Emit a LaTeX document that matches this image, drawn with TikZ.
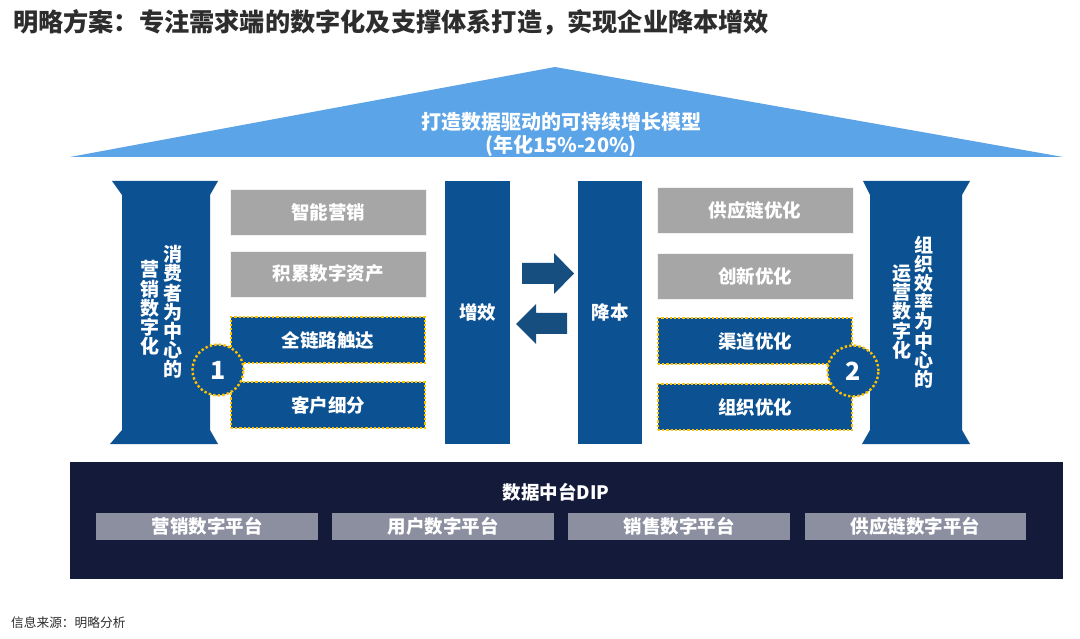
\documentclass[tikz,border=0pt]{standalone}
\usepackage{fontspec}
\setmainfont{Noto Sans CJK SC}
\definecolor{roofc}{RGB}{91,164,231}
\definecolor{pillc}{RGB}{12,81,146}
\definecolor{arrc}{RGB}{23,78,128}
\definecolor{grayc}{RGB}{166,166,166}
\definecolor{goldc}{RGB}{255,192,0}
\definecolor{basec}{RGB}{19,26,58}
\definecolor{platc}{RGB}{140,143,160}
\definecolor{titlec}{RGB}{45,45,45}
\tikzset{
  graybox/.style={fill=grayc, draw=white!85!grayc, line width=0.8pt, text=white, font=\fontsize{18.5}{18.5}\selectfont\bfseries},
  bluebox/.style={fill=pillc, draw=goldc, line width=2.2pt, dash pattern=on 2.2pt off 2pt, text=white, font=\fontsize{18.5}{18.5}\selectfont\bfseries},
  numcirc/.style={circle, fill=pillc, draw=goldc, line width=2.4pt, dash pattern=on 2.4pt off 2.2pt, minimum size=51pt, inner sep=0pt, text=white, font=\fontsize{25}{25}\selectfont\bfseries},
  vtext/.style={text=white, align=center, inner sep=0pt, font=\fontsize{19}{19.2}\selectfont\bfseries},
  bartext/.style={text=white, font=\fontsize{18.5}{18.5}\selectfont\bfseries},
  platbox/.style={fill=platc, text=white, font=\fontsize{18.5}{18.5}\selectfont\bfseries},
}
\begin{document}
\begin{tikzpicture}[x=1pt,y=-1pt]
\useasboundingbox[fill=white] (0,0) rectangle (1080,639);
% title
\node[anchor=west, inner sep=0pt, text=titlec, font=\fontsize{25.2}{25.2}\selectfont\bfseries] (title) at (13,22) {明略方案：专注需求端的数字化及支撑体系打造，实现企业降本增效};
% roof
\fill[roofc] (70,157) -- (555,67) -- (1063,157) -- cycle;
\node[text=white, align=center, font=\fontsize{20}{23}\selectfont\bfseries] (roof) at (561,134) {打造数据驱动的可持续增长模型\\(年化15\%-20\%)};
% left pillar
\fill[pillc] (112,181) -- (218,181) -- (210,195) -- (210,430) -- (218,444) -- (110,444) -- (122,430) -- (122,195) -- cycle;
\node[vtext] (lp1) at (173,312) {消\\费\\者\\为\\中\\心\\的};
\node[vtext] (lp2) at (150,308) {营\\销\\数\\字\\化};
% right pillar
\fill[pillc] (863,181) -- (970,181) -- (962,195) -- (962,430) -- (970,444) -- (862,444) -- (870,430) -- (870,195) -- cycle;
\node[vtext] (rp1) at (924,312) {组\\织\\效\\率\\为\\中\\心\\的};
\node[vtext] (rp2) at (902,312) {运\\营\\数\\字\\化};
% left boxes
\node[graybox, minimum width=196pt, minimum height=46pt] (l1) at (328,212) {智能营销};
\node[graybox, minimum width=196pt, minimum height=46pt] (l2) at (328,274) {积累数字资产};
\node[bluebox, minimum width=194pt, minimum height=46pt] (l3) at (328,340) {全链路触达};
\node[bluebox, minimum width=194pt, minimum height=46pt] (l4) at (328,405) {客户细分};
\node[numcirc] (c1) at (218,370) {1};
% right boxes
\node[graybox, minimum width=196pt, minimum height=46pt] (r1) at (755,210) {供应链优化};
\node[graybox, minimum width=196pt, minimum height=46pt] (r2) at (755,276) {创新优化};
\node[bluebox, minimum width=194pt, minimum height=46pt] (r3) at (755,341) {渠道优化};
\node[bluebox, minimum width=194pt, minimum height=46pt] (r4) at (755,407) {组织优化};
\node[numcirc] (c2) at (853,371) {2};
% center bars
\node[fill=pillc, minimum width=65pt, minimum height=263pt, inner sep=0pt] (zx) at (477.5,312.5) {};
\node[bartext] (zxt) at (zx.center) {增效};
\node[fill=pillc, minimum width=64pt, minimum height=263pt, inner sep=0pt] (jb) at (610,312.5) {};
\node[bartext] (jbt) at (jb.center) {降本};
% block arrows
\fill[arrc] (522,263) -- (554,263) -- (554,253) -- (574,273.5) -- (554,294) -- (554,284) -- (522,284) -- cycle;
\fill[arrc] (567,313) -- (536,313) -- (536,304) -- (516,324) -- (536,344) -- (536,334) -- (567,334) -- cycle;
% base platform
\node[fill=basec, minimum width=993pt, minimum height=117pt, inner sep=0pt] (base) at (566.5,520.5) {};
\node[text=white, font=\fontsize{18.5}{18.5}\selectfont\bfseries] (dip) at (556,492) {数据中台DIP};
\node[platbox, minimum width=222pt, minimum height=27pt, inner sep=0pt] (p1) at (207,526.5) {营销数字平台};
\node[platbox, minimum width=222pt, minimum height=27pt, inner sep=0pt] (p2) at (443,526.5) {用户数字平台};
\node[platbox, minimum width=222pt, minimum height=27pt, inner sep=0pt] (p3) at (679,526.5) {销售数字平台};
\node[platbox, minimum width=221pt, minimum height=27pt, inner sep=0pt] (p4) at (915.5,526.5) {供应链数字平台};
% footnote
\node[anchor=west, inner sep=0pt, text=titlec, font=\fontsize{12.7}{12.7}\selectfont] (src) at (11,623) {信息来源：明略分析};
\end{tikzpicture}
\end{document}
